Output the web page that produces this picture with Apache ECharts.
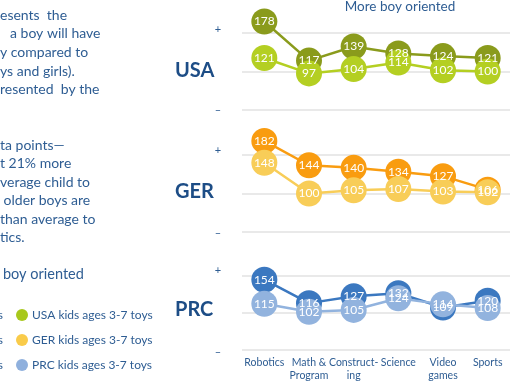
<!DOCTYPE html>
<html><head><meta charset="utf-8">
<script src="https://cdn.jsdelivr.net/npm/echarts@6/dist/echarts.min.js"></script>
<style>html,body{margin:0;padding:0;background:#fff}#c{width:510px;height:382px}</style>
</head><body><div id="c"></div>
<script>
const categories = ['Robotics', 'Math &\nProgram', 'Construct-\ning', 'Science', 'Video\ngames', 'Sports'];
const usaOlder = [178, 117, 139, 128, 124, 121];
const usaKids  = [121, 97, 104, 114, 102, 100];
const gerOlder = [182, 144, 140, 134, 127, 106];
const gerKids  = [148, 100, 105, 107, 103, 102];
const prcOlder = [154, 116, 127, 132, 109, 120];
const prcKids  = [115, 102, 105, 124, 114, 108];
const countries = ['USA', 'GER', 'PRC'];
const yTicks = [40, 100, 160];
const legendLabels = ['USA kids ages 3-7 toys', 'GER kids ages 3-7 toys', 'PRC kids ages 3-7 toys'];
const paragraph1 = ['esents  the', 'a boy will have', 'y compared to', 'ys and girls).', 'resented  by the'];
const paragraph2 = ['ta points\u2014', 't 21% more', 'verage child to', ' older boys are', 'than average to', 'tics.'];

const FONT = 'Lato';
const TXT = '#2e5d93';
const darkCols = ['#8a9b1c', '#f99c10', '#3b78c0'];
const lightCols = ['#b4cf22', '#f8cd58', '#92b3de'];
const legendCols = ['#a8c81c', '#f9cb4a', '#8fb0dd'];
const tops = [33, 155, 276];
const H = 77;

const chart = echarts.init(document.getElementById('c'));
const grids = [], xAxes = [], yAxes = [], series = [];
const older = [usaOlder, gerOlder, prcOlder], kids = [usaKids, gerKids, prcKids];
for (let i = 0; i < 3; i++) {
  grids.push({left: 242, width: 281, top: tops[i], height: H});
  xAxes.push({type: 'category', gridIndex: i, data: categories, boundaryGap: true,
    axisLine: {show: false}, axisTick: {show: false},
    axisLabel: {show: i === 2, color: TXT, fontFamily: FONT, fontSize: 10.5, lineHeight: 13, margin: 6, interval: 0}});
  yAxes.push({type: 'value', gridIndex: i, min: yTicks[0], max: yTicks[2], interval: yTicks[1] - yTicks[0],
    axisLabel: {show: false}, axisLine: {show: false}, axisTick: {show: false},
    splitLine: {lineStyle: {color: '#e2e2e2', width: 1.5}}});
  const mk = (data, col) => ({type: 'line', xAxisIndex: i, yAxisIndex: i, data, clip: false,
    symbol: 'circle', symbolSize: 26, lineStyle: {color: col, width: 2.5}, itemStyle: {color: col},
    label: {show: true, position: 'inside', color: '#fff', fontFamily: FONT, fontSize: 12},
    emphasis: {disabled: true}, animation: false});
  series.push(mk(older[i], darkCols[i]));
  series.push(mk(kids[i], lightCols[i]));
}
const graphics = [];
const countryY = [72, 193, 311];
const plusY = [29, 150, 270], minusY = [110, 233, 352];
for (let i = 0; i < 3; i++) {
  graphics.push({type: 'text', left: 175, top: countryY[i] - 11, style: {text: countries[i], fill: '#1d4d86', font: 'bold 20px ' + FONT}});
  graphics.push({type: 'text', x: 218, y: plusY[i], style: {text: '+', fill: TXT, font: '11px ' + FONT, textAlign: 'center', textVerticalAlign: 'middle'}});
  graphics.push({type: 'text', x: 218, y: minusY[i], style: {text: '\u2013', fill: TXT, font: '11px ' + FONT, textAlign: 'center', textVerticalAlign: 'middle'}});
  graphics.push({type: 'circle', shape: {cx: 22, cy: 315 + i * 25, r: 6}, style: {fill: legendCols[i]}});
  graphics.push({type: 'text', x: 32, y: 315 + i * 25, style: {text: legendLabels[i], fill: TXT, font: '12px ' + FONT, textVerticalAlign: 'middle'}});
  graphics.push({type: 'text', x: 3, y: 315 + i * 25, style: {text: 's', fill: TXT, font: '12px ' + FONT, textAlign: 'right', textVerticalAlign: 'middle'}});
}
const p1x = [0, 10, 0, 0, 0];
paragraph1.forEach((t, k) => graphics.push({type: 'text', x: p1x[k], y: 15 + k * 18.7, style: {text: t, fill: TXT, font: '14px ' + FONT, textVerticalAlign: 'middle'}}));
paragraph2.forEach((t, k) => graphics.push({type: 'text', x: 0, y: 145 + k * 18.5, style: {text: t, fill: TXT, font: '14px ' + FONT, textVerticalAlign: 'middle'}}));
graphics.push({type: 'text', x: 3, y: 274, style: {text: 'boy oriented', fill: TXT, font: '14.5px ' + FONT, textVerticalAlign: 'middle'}});
graphics.push({type: 'text', x: 400, y: 7, style: {text: 'More boy oriented', fill: TXT, font: '13.5px ' + FONT, textAlign: 'center', textVerticalAlign: 'middle'}});

chart.setOption({animation: false, grid: grids, xAxis: xAxes, yAxis: yAxes, series, graphic: graphics});
</script></body></html>
